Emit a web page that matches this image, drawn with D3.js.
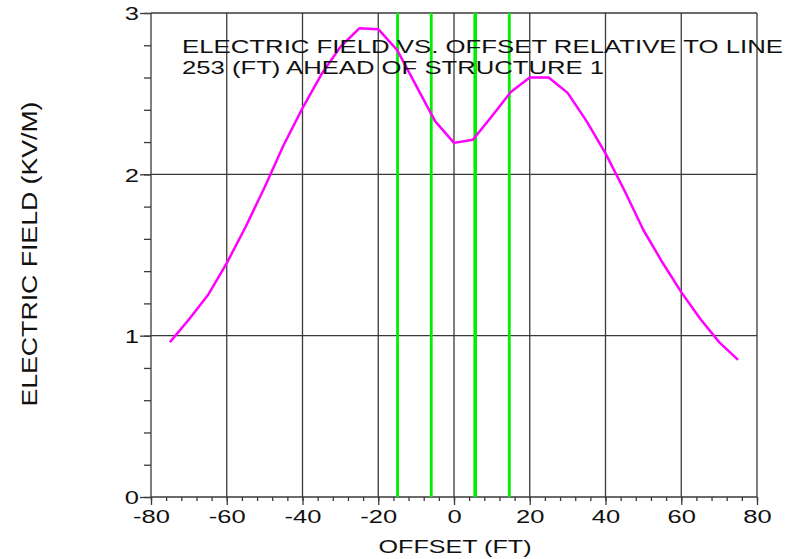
<!DOCTYPE html>
<html><head><meta charset="utf-8">
<script src="https://cdn.jsdelivr.net/npm/d3@7"></script>
<style>
body{margin:0;background:#fff;}
svg{display:block;}
text{font-family:"Liberation Sans",Arial,sans-serif;fill:#111;}
</style></head>
<body><svg id="c" width="797" height="559"></svg>
<script>
const offsets = [-75,-70,-65,-60,-55,-50,-45,-40,-35,-30,-25,-20,-15,-10,-5,0,5,10,15,20,25,30,35,40,45,50,55,60,65,70,75];
const field   = [0.96,1.10,1.25,1.45,1.675,1.92,2.18,2.41,2.62,2.79,2.905,2.90,2.77,2.55,2.33,2.195,2.215,2.36,2.51,2.60,2.60,2.505,2.33,2.13,1.90,1.655,1.455,1.27,1.105,0.96,0.85];
const conductors = [-14.9, -6.0, 5.6, 14.6];
const xTicks = [-80,-60,-40,-20,0,20,40,60,80];
const yTicks = [0,1,2,3];
const titleLines = ["ELECTRIC FIELD VS. OFFSET RELATIVE TO LINE", "253 (FT) AHEAD OF STRUCTURE 1"];
const xLabel = "OFFSET (FT)";
const yLabel = "ELECTRIC FIELD (KV/M)";

const svg = d3.select("#c");
const x = d3.scaleLinear().domain([-80,80]).range([151,757]);
const y = d3.scaleLinear().domain([0,3]).range([497,13]);
const gridColor = "#3a3a3a";

// grid
const g = svg.append("g");
g.selectAll("line.vx").data(xTicks).join("line")
  .attr("x1", d=>x(d)).attr("x2", d=>x(d)).attr("y1", y(0)).attr("y2", y(3))
  .attr("stroke", gridColor).attr("stroke-width", 1.3);
g.selectAll("line.hy").data(yTicks).join("line")
  .attr("x1", x(-80)).attr("x2", x(80)).attr("y1", d=>y(d)).attr("y2", d=>y(d))
  .attr("stroke", gridColor).attr("stroke-width", 1.3);

// axes
function styleAxis(sel){
  sel.select(".domain").remove();
  sel.selectAll(".tick line").attr("stroke", gridColor).attr("stroke-width", 1.3);
}
const xMinor = d3.range(-80, 81, 4);
const yMinor = d3.range(0, 3.01, 0.2);
svg.append("g").attr("transform", `translate(0,${y(0)})`)
  .call(d3.axisBottom(x).tickValues(xMinor).tickSize(4).tickFormat(""))
  .call(styleAxis);
svg.append("g").attr("transform", `translate(${x(-80)},0)`)
  .call(d3.axisLeft(y).tickValues(yMinor).tickSize(7).tickFormat(""))
  .call(styleAxis);
const fmt = d => String(d);
const xa = svg.append("g").attr("transform", `translate(0,${y(0)})`)
  .call(d3.axisBottom(x).tickValues(xTicks).tickSize(8).tickPadding(4).tickFormat(fmt))
  .call(styleAxis);
const ya = svg.append("g").attr("transform", `translate(${x(-80)},0)`)
  .call(d3.axisLeft(y).tickValues(yTicks).tickSize(11).tickPadding(1).tickFormat(fmt))
  .call(styleAxis);
[xa, ya].forEach(a => a.selectAll(".tick text")
  .attr("font-family", '"Liberation Sans",Arial,sans-serif')
  .attr("font-size", 18.5).attr("fill", "#111")
  .each(function(){
    const w = this.getComputedTextLength();
    d3.select(this).attr("textLength", w*1.38).attr("lengthAdjust","spacingAndGlyphs");
  }));
xa.selectAll(".tick text").attr("dy", null).attr("y", 0)
  .attr("transform", "translate(0,25.5)");
ya.selectAll(".tick text").attr("dy", "0.36em");

// conductor lines
svg.append("g").selectAll("line").data(conductors).join("line")
  .attr("x1", d=>x(d)).attr("x2", d=>x(d)).attr("y1", y(0)).attr("y2", y(3))
  .attr("stroke", "#00ee00").attr("stroke-width", (d,i)=> i===2 ? 3.6 : 2.8);

// curve
const pts = offsets.map((o,i)=>[o, field[i]]);
svg.append("path").datum(pts)
  .attr("d", d3.line().x(d=>x(d[0])).y(d=>y(d[1])))
  .attr("fill","none").attr("stroke","#ff00ff").attr("stroke-width",2.5)
  .attr("stroke-linejoin","round");

// title
const tl = [[182,53.3,601],[182,74,422]];
svg.append("g").selectAll("text").data(titleLines).join("text")
  .attr("x", (d,i)=>tl[i][0]).attr("y", (d,i)=>tl[i][1])
  .attr("font-size", 18.5).attr("textLength", (d,i)=>tl[i][2]).attr("lengthAdjust","spacingAndGlyphs")
  .text(d=>d);

// axis labels
svg.append("text").attr("x", 455).attr("y", 553).attr("text-anchor","middle")
  .attr("font-size", 18.5).attr("textLength", 153).attr("lengthAdjust","spacingAndGlyphs")
  .text(xLabel);
svg.append("text").attr("transform","translate(37,254) rotate(-90)").attr("text-anchor","middle")
  .attr("font-size", 22).attr("textLength", 305).attr("lengthAdjust","spacingAndGlyphs")
  .text(yLabel);
</script></body></html>
